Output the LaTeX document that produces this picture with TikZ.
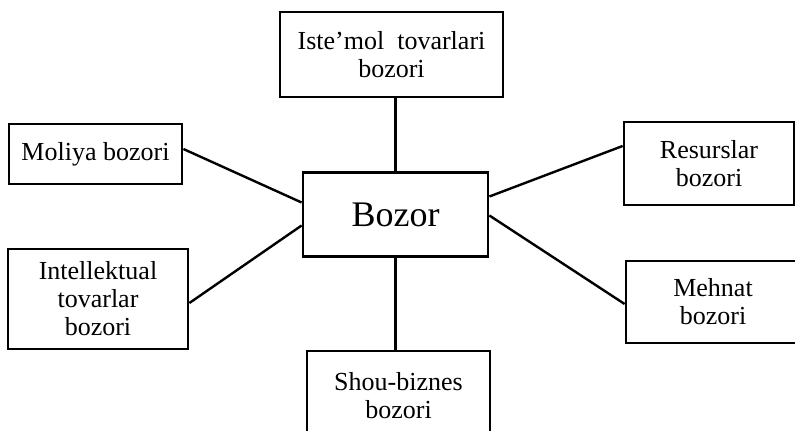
\documentclass[tikz,border=0pt]{standalone}
\usepackage{fontspec}
\setmainfont{Liberation Serif}

\begin{document}
\begin{tikzpicture}[x=0.5pt,y=-0.5pt,
  market/.style={draw,line width=1.4pt,align=center,inner sep=0pt,
    font=\fontsize{13}{14}\selectfont},
  link/.style={line width=1.2pt}]
  \clip (0,0) rectangle (795,431);
  \node (boz) at (395.5,214.5) [market,minimum width=92.5pt,minimum height=42pt,font=\fontsize{18}{20}\selectfont] {Bozor};
  \node (ist) at (391.5,54.5) [market,minimum width=111.5pt,minimum height=42.5pt] {Iste'mol\ \ tovarlari\\bozori};
  \node (mol) at (95.5,154) [market,minimum width=86.5pt,minimum height=30pt] {Moliya bozori};
  \node (int) at (98,299) [market,minimum width=90pt,minimum height=50pt] {Intellektual\\tovarlar\\bozori};
  \node (res) at (709,163.5) [market,minimum width=85pt,minimum height=41.5pt] {Resurslar\\bozori};
  \node (meh) at (713,302) [market,minimum width=87pt,minimum height=41pt] {Mehnat\\bozori};
  \node (sho) at (398.5,396) [market,minimum width=91.5pt,minimum height=45pt] {Shou-biznes\\bozori};
  \draw[link] (boz.north) -- (boz.north |- ist.south);
  \draw[link] (boz.south) -- (boz.south |- sho.north);
  \draw[link] ([yshift=2.5pt]mol.east) -- ([yshift=6pt]boz.west);
  \draw[link] ([yshift=-2pt]int.east) -- ([yshift=-5.5pt]boz.west);
  \draw[link] ([yshift=8.75pt]res.west) -- ([yshift=9pt]boz.east);
  \draw[link] ([yshift=-1pt]meh.west) -- ([yshift=-0.5pt]boz.east);
\end{tikzpicture}
\end{document}
